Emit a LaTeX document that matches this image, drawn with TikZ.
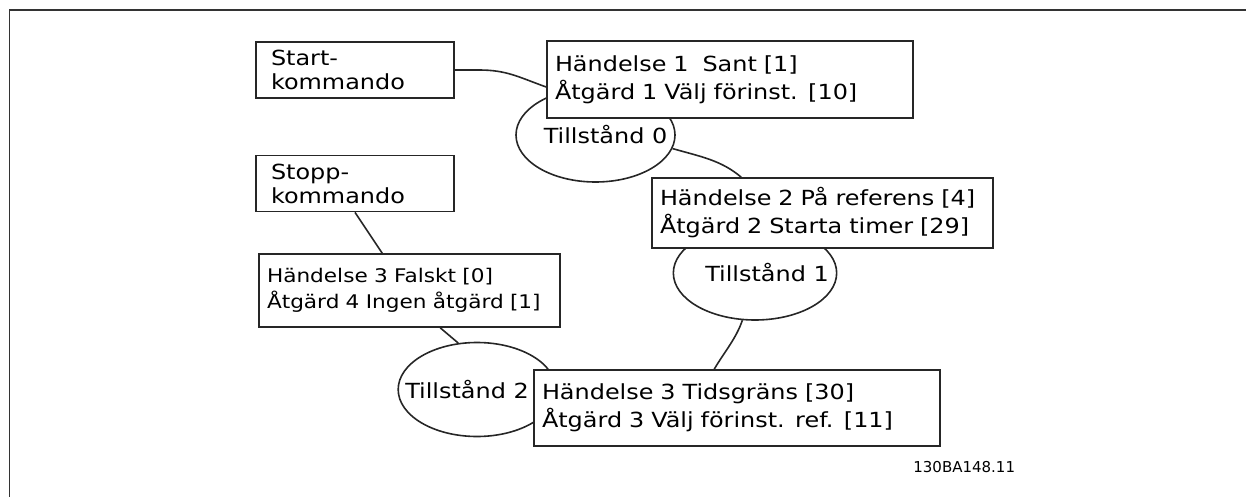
\documentclass[tikz,border=0pt]{standalone}
\usepackage{fontspec}
\setmainfont[FakeStretch=1.15]{DejaVu Sans}
\newfontfamily\codefont{DejaVu Sans}
\usepackage{tikz}
\usetikzlibrary{shapes.geometric,positioning}
\tikzset{
  evbox/.style={rectangle, draw=black!85, line width=0.8pt, fill=white,
                align=left, inner xsep=4pt, inner ysep=0pt,
                font=\fontsize{10.4}{14}\selectfont},
  cmdbox/.style={evbox, text width=84pt, minimum width=99pt,
                 minimum height=28pt, inner xsep=7.5pt,
                 font=\fontsize{10.4}{12}\selectfont},
  state/.style={ellipse, draw=black!85, line width=0.8pt,
                inner xsep=-8pt, inner ysep=0pt,
                minimum width=#1, minimum height=47pt,
                font=\fontsize{10.4}{12}\selectfont},
  sline/.style={line width=0.8pt, black!85}
}
\begin{document}
\begin{tikzpicture}[x=0.5pt, y=-0.5pt]
\useasboundingbox (0,0) rectangle (1246,497);
% frame
\draw[black!80, line width=0.7pt] (9.3,497) -- (9.3,10) -- (1246,10);
% states (behind the boxes)
\node[state=79.5pt] (e0) at (595.5,135) {\hspace*{10pt}Tillstånd 0};
\node[state=80pt]   (e1) at (755,273)   {\hspace*{12pt}Tillstånd 1};
\node[state=77pt]   (e2) at (477,389.5) {Tillstånd 2\hspace*{10pt}};
% commands
\node[cmdbox] (start) at (355,70) {Start-\\kommando};
\node[cmdbox, below=28pt of start] (stopp) {Stopp-\\kommando};
% events / actions
\node[evbox, text width=175pt, minimum height=38.5pt] (h1) at (730,79.5)
  {Händelse 1\ \ Sant [1]\\Åtgärd 1 Välj förinst. [10]};
\node[evbox, text width=162.5pt, minimum height=35pt] (h2) at (822.5,213)
  {Händelse 2 På referens [4]\\Åtgärd 2 Starta timer [29]};
\node[evbox, text width=142.5pt, minimum height=36.5pt,
      font=\fontsize{9.4}{13}\selectfont] (h3f) at (409.5,290.5)
  {Händelse 3 Falskt [0]\\Åtgärd 4 Ingen åtgärd [1]};
\node[evbox, text width=195pt, minimum height=38pt] (h3t) at (737,408)
  {Händelse 3 Tidsgräns [30]\\Åtgärd 3 Välj förinst. ref. [11]};
\node[font=\codefont\fontsize{7.5}{9}\selectfont, inner sep=0pt,
      anchor=west] (code) at (913,467) {130BA148.11};
% connectors
\draw[sline] (start.east) -- ++(24,0)
  .. controls +(28,0) and +(-28,-10) .. ([yshift=-3.75pt]h1.west);
\draw[sline] (e0.-10)
  .. controls +(28,8) and +(-20,-17) .. ([xshift=45pt]h2.north west);
\draw[sline] (e1.255)
  .. controls +(-6,18) and +(10,-17) .. ([xshift=90.5pt]h3t.north west);
\draw[sline] (stopp.south) -- ([xshift=62pt]h3f.north west);
\draw[sline] ([xshift=91pt]h3f.south west) -- (e2.112);
\end{tikzpicture}
\end{document}
